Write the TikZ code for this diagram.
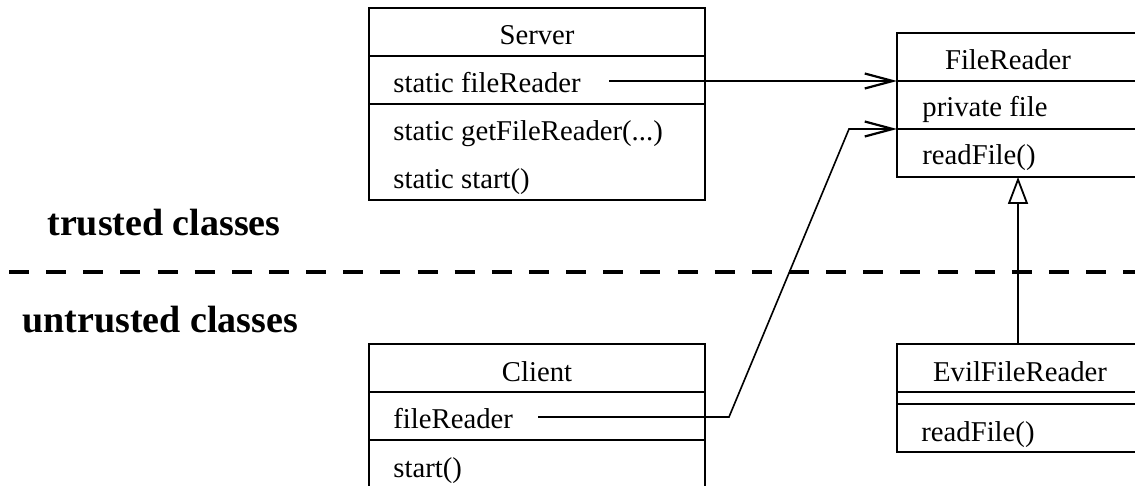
\documentclass[tikz,border=0pt]{standalone}
\usepackage{fontspec}
\setmainfont{Liberation Serif}
\usetikzlibrary{arrows.meta,positioning}

\tikzset{
	compart/.style={draw, line width=0.85pt, anchor=north west, inner sep=0pt, outer sep=0pt},
	member/.style={anchor=base west, inner sep=0pt, font=\fontsize{14.35}{17}\selectfont},
	classname/.style={anchor=base, inner sep=0pt, font=\fontsize{14.35}{17}\selectfont},
	zone/.style={anchor=base west, inner sep=0pt, font=\bfseries\fontsize{19}{22}\selectfont},
	divider/.style={line width=2pt, dash pattern=on 10pt off 8.57pt},
	assoc/.style={line width=0.8pt, -{Straight Barb[length=14pt, width=7.5pt, line width=1.1pt]}},
	inherit/.style={line width=0.8pt, -{Triangle[open, length=13.5pt, width=10pt, line width=0.9pt]}},
}

\begin{document}
\begin{tikzpicture}[x=0.5pt,y=-0.5pt] % one unit = one pixel, y downwards
		\newcommand{\leftWidth}{168pt}
		\newcommand{\rightWidth}{121pt}
		\newcommand{\rowHeight}{24pt}
		
		\useasboundingbox (0,0) rectangle (1135,486);
		\clip (0,0) rectangle (1135,486);	% right and bottom boxes run off the page
		
		% Server
		\node[compart, minimum width=\leftWidth, minimum height=\rowHeight] (srvhead) at (369,8) {};
		\node[compart, minimum width=\leftWidth, minimum height=\rowHeight] (srvattr) at (srvhead.south west) {};
		\node[compart, minimum width=\leftWidth, minimum height=2*\rowHeight] (srvmeth) at (srvattr.south west) {};
		\node[classname] (srvname) at (537,45) {Server};
		\node[member] (srvfield) at (393,93) {static fileReader};
		\node[member] (srvget) at (393,141) {static getFileReader(...)};
		\node[member] (srvstart) at (393,189) {static start()};
		
		% FileReader
		\node[compart, minimum width=\rightWidth, minimum height=\rowHeight] (frhead) at (897,33) {};
		\node[compart, minimum width=\rightWidth, minimum height=\rowHeight] (frattr) at (frhead.south west) {};
		\node[compart, minimum width=\rightWidth, minimum height=\rowHeight] (frmeth) at (frattr.south west) {};
		\node[classname] (frname) at (1008,70) {FileReader};
		\node[member] (frfile) at (922,117) {private file};
		\node[member] (frread) at (922,165) {readFile()};
		
		% Client
		\node[compart, minimum width=\leftWidth, minimum height=\rowHeight] (clihead) at (369,344) {};
		\node[compart, minimum width=\leftWidth, minimum height=\rowHeight] (cliattr) at (clihead.south west) {};
		\node[compart, minimum width=\leftWidth, minimum height=\rowHeight] (climeth) at (cliattr.south west) {};
		\node[classname] (cliname) at (537,381) {Client};
		\node[member] (clifield) at (393,428) {fileReader};
		\node[member] (clistart) at (393,477) {start()};
		
		% EvilFileReader
		\node[compart, minimum width=\rightWidth, minimum height=\rowHeight] (evhead) at (897,344) {};
		\node[compart, minimum width=\rightWidth, minimum height=6pt] (evattr) at (evhead.south west) {};
		\node[compart, minimum width=\rightWidth, minimum height=\rowHeight] (evmeth) at (evattr.south west) {};
		\node[classname] (evname) at (1020,381) {EvilFileReader};
		\node[member] (evread) at (921,441) {readFile()};
		
		% trust boundary
		\draw[divider] (9,272) -- (1135,272);
		\node[zone] (trusted) at (47,236) {trusted classes};
		\node[zone] (untrusted) at (22,332) {untrusted classes};
		
		% references
		\coordinate (srvref) at (609,81);
		\draw[assoc] (srvref) -- (frattr.north west);
		\coordinate (cliref) at (538,417);
		\draw[assoc] (cliref) -- ++(191,0) -- ++(120,-288) -- (frmeth.north west);
		
		\draw[inherit] (evhead.north) -- (frmeth.south);	% subclass
\end{tikzpicture}
\end{document}
